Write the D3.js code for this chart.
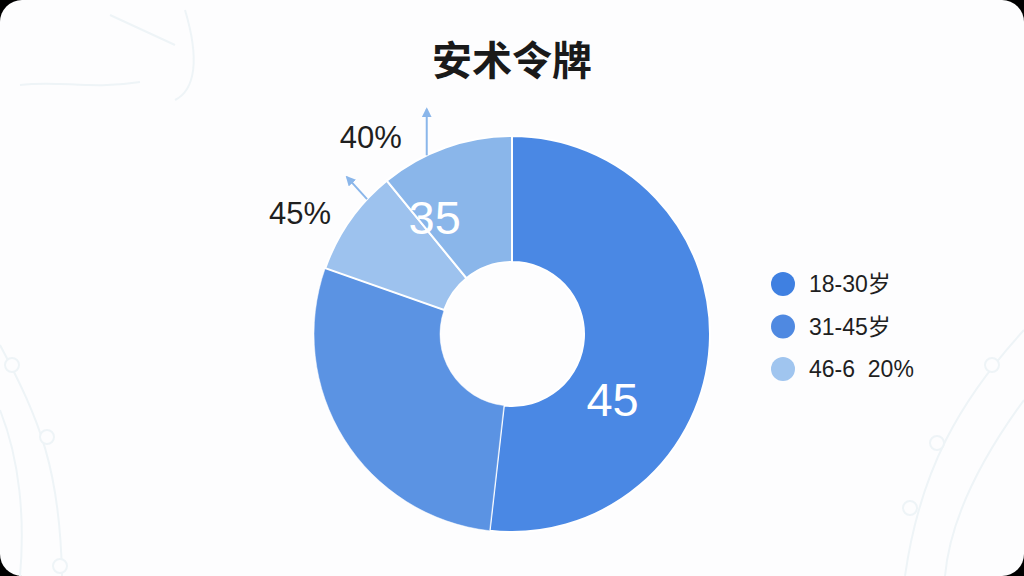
<!DOCTYPE html>
<html>
<head>
<meta charset="utf-8">
<script src="https://cdn.jsdelivr.net/npm/d3@7"></script>
<style>
  html, body { margin: 0; padding: 0; background: #000; }
  svg { display: block; }
  text { font-family: "Liberation Sans", "Noto Sans CJK SC", sans-serif; }
  .title { font-family: "Noto Sans CJK SC", sans-serif; }
</style>
</head>
<body>
<svg id="chart" width="1024" height="576"></svg>
<script>
// data
const title = '安术令牌';
const sliceNames = ['18-30岁', '31-45岁', '46-60岁', '60岁以上'];
const sliceValues = [51.8, 28.6, 8.7, 10.9];
const sliceColors = ['#4a88e4', '#5b93e3', '#9dc2ee', '#8ab6ea'];
const sliceLabels = ['45', '', '', '35'];
const outerLabels = ['45%', '40%'];
const legendNames = ['18-30岁', '31-45岁', '46-6  20%'];
const legendColors = ['#3f80e1', '#4f89e1', '#a0c5ef'];

const width = 1024, height = 576;
const cx = 512, cy = 334;
const outerR = 198, innerR = 72;

const svg = d3.select('#chart');

// card
svg.append('rect')
    .attr('x', 0).attr('y', 0)
    .attr('width', width).attr('height', height)
    .attr('rx', 22)
    .attr('fill', '#fdfdfe');

// faint decoration lines in the background
const deco = svg.append('g')
    .attr('fill', 'none')
    .attr('stroke', '#eef4f7')
    .attr('stroke-width', 2);
deco.append('path').attr('d', 'M0,345 C40,420 60,470 62,576');
deco.append('path').attr('d', 'M0,410 C20,460 25,520 20,576');
deco.append('path').attr('d', 'M1024,330 C960,400 920,470 905,576');
deco.append('path').attr('d', 'M1024,400 C980,460 950,520 945,576');
deco.append('path').attr('d', 'M110,15 L175,45 M185,10 C200,60 195,90 175,100 M20,85 C60,80 90,90 140,82');
[[12, 365], [47, 437], [60, 566], [992, 365], [937, 443], [910, 508]].forEach(p => {
    deco.append('circle').attr('cx', p[0]).attr('cy', p[1]).attr('r', 7).attr('fill', '#fdfdfe');
});

// title
svg.append('text')
    .attr('class', 'title')
    .attr('x', cx).attr('y', 75)
    .attr('text-anchor', 'middle')
    .attr('font-size', 40)
    .attr('font-weight', 'bold')
    .attr('fill', '#1a1a1a')
    .text(title);

// donut
const pie = d3.pie().sort(null).value(d => d);
const arcs = pie(sliceValues);
const arc = d3.arc().innerRadius(innerR).outerRadius(outerR);

const g = svg.append('g').attr('transform', `translate(${cx},${cy})`);

g.selectAll('path')
    .data(arcs)
    .enter().append('path')
    .attr('d', arc)
    .attr('fill', (d, i) => sliceColors[i])
    .attr('stroke', '#ffffff')
    .attr('stroke-width', (d, i) => i === 1 ? 0.5 : 2);

// polar helper (angle clockwise from 12 o'clock)
const polar = (a, r) => [Math.sin(a) * r, -Math.cos(a) * r];

// labels inside the ring
const innerLabelPos = [
    { a: arcs[0].startAngle + (arcs[0].endAngle - arcs[0].startAngle) * 0.66, r: 120 },
    null,
    null,
    { a: arcs[3].startAngle + 0.1, r: 140 }
];
sliceLabels.forEach((t, i) => {
    if (!t) return;
    const p = polar(innerLabelPos[i].a, innerLabelPos[i].r);
    g.append('text')
        .attr('x', p[0]).attr('y', p[1])
        .attr('dy', '0.36em')
        .attr('text-anchor', 'middle')
        .attr('font-size', 47)
        .attr('fill', '#ffffff')
        .text(t);
});

// arrows pointing out of the light slices
svg.append('defs').append('marker')
    .attr('id', 'arrow')
    .attr('viewBox', '0 0 10 10')
    .attr('refX', 8).attr('refY', 5)
    .attr('markerWidth', 5).attr('markerHeight', 5)
    .attr('orient', 'auto')
    .append('path')
    .attr('d', 'M0,0 L10,5 L0,10 Z')
    .attr('fill', '#8ab6ea');

const arrowSpecs = [
    { slice: 2, frac: 0.75, dx: -20, dy: -22, lx: -67, ly: 25 },
    { slice: 3, frac: 0.35, dx: 0, dy: -46, lx: -56, ly: -7 }
];
arrowSpecs.forEach((s, i) => {
    const d = arcs[s.slice];
    const a = d.startAngle + (d.endAngle - d.startAngle) * s.frac;
    const p = polar(a, outerR);
    g.append('line')
        .attr('x1', p[0]).attr('y1', p[1])
        .attr('x2', p[0] + s.dx).attr('y2', p[1] + s.dy)
        .attr('stroke', '#8ab6ea')
        .attr('stroke-width', 2)
        .attr('marker-end', 'url(#arrow)');
    g.append('text')
        .attr('x', p[0] + s.lx).attr('y', p[1] + s.ly)
        .attr('text-anchor', 'middle')
        .attr('font-size', 31)
        .attr('fill', '#1f1f1f')
        .text(outerLabels[i]);
});

// legend
const legend = svg.append('g').attr('transform', 'translate(783,284)');
const item = legend.selectAll('g')
    .data(legendNames)
    .enter().append('g')
    .attr('transform', (d, i) => `translate(0,${i * 42.5})`);
item.append('circle')
    .attr('r', 12)
    .attr('fill', (d, i) => legendColors[i]);
item.append('text')
    .attr('x', 26)
    .attr('dy', '0.36em')
    .attr('font-size', 23)
    .attr('fill', '#1f1f1f')
    .attr('xml:space', 'preserve')
    .style('white-space', 'pre')
    .text(d => d);
</script>
</body>
</html>
